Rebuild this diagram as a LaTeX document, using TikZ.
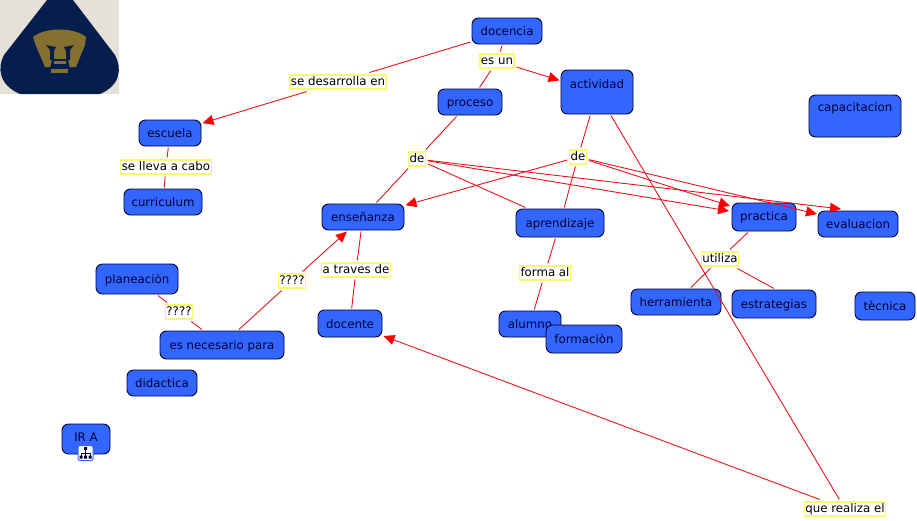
\documentclass[tikz,border=0pt]{standalone}
\usepackage{fontspec}
\setmainfont{DejaVu Sans}
\usetikzlibrary{arrows.meta}
\definecolor{nodeblue}{RGB}{51,102,255}
\definecolor{nodeedge}{RGB}{0,0,51}
\definecolor{labelyellow}{RGB}{250,250,110}
\definecolor{linkred}{RGB}{230,20,30}
\definecolor{logonavy}{RGB}{5,30,75}
\definecolor{logogold}{RGB}{134,112,48}
\definecolor{logobg}{RGB}{229,225,217}
\tikzset{
  concept/.style={draw=nodeedge, fill=nodeblue, rounded corners=6.5pt, line width=0.9pt, inner sep=0pt, outer sep=1.5pt, text=nodeedge, font=\fontsize{11.8}{13}\selectfont, text height=9.5pt, text depth=0pt},
  linklabel/.style={draw=labelyellow, fill=white, line width=1.2pt, inner sep=1pt, outer sep=2.5pt, text=black, font=\fontsize{11.8}{13}\selectfont, text height=9.5pt, text depth=2.5pt},
  link/.style={draw=linkred, line width=0.9pt},
  linkarrow/.style={link, -{Triangle[length=11pt,width=10pt,color=red]}},
}
\newcommand{\conceptnode}[6]{\node[concept, minimum width=#3pt, minimum height=#4pt] (#1) at (#5,#6) {#2};}
\begin{document}
\begin{tikzpicture}[x=1pt, y=-1pt]
\useasboundingbox (0,0) rectangle (917,520);
% logo
\fill[logobg] (0,0) rectangle (119,94);
\fill[logonavy] (47,0) -- (73,0) -- (115,55) .. controls (122,68) and (121,85) .. (100,94) -- (20,94) .. controls (-1,85) and (-3,68) .. (4,55) -- cycle;
\fill[logogold] (33,37) .. controls (45,27) and (74,27) .. (86,37) -- (85,45) -- (76,67) -- (45,67) -- (36,46) -- cycle;
\fill[logonavy] (46,45) -- (56,47) -- (54,51) -- (54,59) -- (66,59) -- (66,51) -- (64,47) -- (74,45) -- (70,50) -- (70,60) -- (68,60) -- (70,68) -- (50,68) -- (52,60) -- (50,60) -- (50,50) -- cycle;
\fill[logogold] (54,60.5) rectangle (66,64);
\fill[logogold] (51,69) rectangle (68,73);
% concepts
\conceptnode{docencia}{docencia}{70}{26}{507}{31}
\conceptnode{actividad}{\raisebox{8pt}{actividad}}{72}{44}{597}{92}
\conceptnode{proceso}{proceso}{64}{26}{470}{102}
\conceptnode{capacitacion}{\raisebox{9pt}{capacitacion}}{92}{42}{855}{116}
\conceptnode{escuela}{escuela}{62}{26}{170}{133}
\conceptnode{curriculum}{curriculum}{78}{26}{163}{202}
\conceptnode{ensenanza}{enseñanza}{82}{26}{363}{217}
\conceptnode{aprendizaje}{aprendizaje}{88}{28}{560}{223}
\conceptnode{practica}{\raisebox{1pt}{practica}}{64}{28}{764}{217}
\conceptnode{evaluacion}{evaluacion}{80}{26}{858}{224}
\conceptnode{planeacion}{planeaciòn}{82}{30}{137}{279}
\conceptnode{herramienta}{herramienta}{90}{26}{676}{302}
\conceptnode{estrategias}{estrategias}{84}{28}{774}{304}
\conceptnode{tecnica}{tècnica}{60}{28}{885}{306}
\conceptnode{docente}{docente}{64}{27}{350}{323.5}
\conceptnode{alumno}{alumno}{62}{26}{530}{324}
\conceptnode{formacion}{formaciòn}{76}{28}{584}{339}
\conceptnode{necesario}{es necesario para}{124}{28}{222}{345}
\conceptnode{didactica}{didactica}{70}{26}{162}{383}
\conceptnode{irA}{\raisebox{2pt}{IR A}}{48}{30}{86}{439}
% link labels
\node[linklabel] (desarrolla) at (338,82) {se desarrolla en};
\node[linklabel] (esun) at (497,61) {es un};
\node[linklabel] (deA) at (417,159) {de};
\node[linklabel] (deB) at (578,157) {de};
\node[linklabel] (lleva) at (166,167) {se lleva a cabo};
\node[linklabel] (traves) at (356,270) {a traves de};
\node[linklabel] (formaal) at (545,273) {forma al};
\node[linklabel] (utiliza) at (720,259) {utiliza};
\node[linklabel] (dudaA) at (292,281) {????};
\node[linklabel] (dudaB) at (179,312) {????};
\node[linklabel] (realiza) at (845,509) {que realiza el};
% icon
\node[draw=nodeblue, fill=white, rounded corners=2pt, line width=1pt, minimum size=15pt, inner sep=0pt] (iconA) at (85.5,453) {};
\draw[nodeedge, line width=0.5pt] (85.5,449) -- (85.5,453) (81,456) -- (81,453) -- (90,453) -- (90,456) (85.5,453) -- (85.5,456);
\fill[nodeedge] (84,447) rectangle (87,450) (79.5,455.5) rectangle (82.5,458.5) (84,455.5) rectangle (87,458.5) (88.5,455.5) rectangle (91.5,458.5);
% arrow ends
\coordinate (practicaA) at (729,211);
\coordinate (practicaB) at (730,206);
\coordinate (evaluacionA) at (841,209);
\coordinate (evaluacionB) at (817,214);
% connectors
\draw[link] (docencia) -- (esun);
\draw[link] (esun) -- (proceso);
\draw[linkarrow] (esun) -- (actividad);
\draw[link] (docencia) -- (desarrolla);
\draw[linkarrow] (desarrolla) -- (escuela);
\draw[link] (escuela) -- (lleva);
\draw[link] (lleva) -- (curriculum);
\draw[link] (proceso) -- (deA);
\draw[link] (deA) -- (ensenanza);
\draw[link] (deA) -- (aprendizaje);
\draw[linkarrow] (deA) -- (practicaA);
\draw[linkarrow] (deA) -- (evaluacionA);
\draw[link] (actividad) -- (deB);
\draw[linkarrow] (deB) -- (ensenanza);
\draw[link] (deB) -- (aprendizaje);
\draw[linkarrow] (deB) -- (practicaB);
\draw[linkarrow] (deB) -- (evaluacionB);
\draw[link] (actividad) -- (realiza);
\draw[linkarrow] (realiza) -- (docente);
\draw[link] (ensenanza) -- (traves);
\draw[link] (traves) -- (docente);
\draw[link] (aprendizaje) -- (formaal);
\draw[link] (formaal) -- (alumno);
\draw[link] (practica) -- (utiliza);
\draw[link] (utiliza) -- (herramienta);
\draw[link] (utiliza) -- (estrategias.north);
\draw[link] (planeacion) -- (dudaB);
\draw[link] (dudaB) -- (necesario);
\draw[link] (necesario) -- (dudaA);
\draw[linkarrow] (dudaA) -- (ensenanza);
\end{tikzpicture}
\end{document}
